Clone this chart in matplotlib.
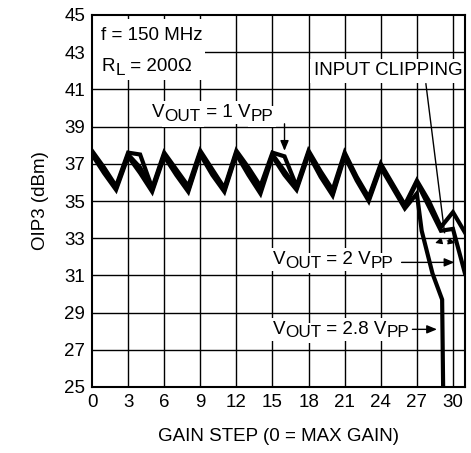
import numpy as np
import matplotlib
matplotlib.use("Agg")
import matplotlib.pyplot as plt
from matplotlib.patches import Rectangle

plt.rcParams['font.family'] = ['Liberation Sans', 'DejaVu Sans']

# gain steps 0..31
steps = np.arange(0, 32)
oip3_1v = [37.7, 36.8, 35.8, 37.6, 37.5, 35.7, 37.6, 36.7, 35.8, 37.7, 36.7, 35.7,
           37.7, 36.8, 35.8, 37.6, 37.4, 35.8, 37.7, 36.6, 35.6, 37.6, 36.3, 35.2,
           37.0, 35.9, 34.8, 36.1, 35.0, 33.6, 34.4, 33.3]
oip3_2v = [37.6, 36.6, 35.7, 37.5, 36.8, 35.6, 37.5, 36.5, 35.6, 37.6, 36.6, 35.6,
           37.6, 36.6, 35.6, 37.5, 36.6, 35.7, 37.6, 36.5, 35.4, 37.5, 36.2, 35.1,
           36.9, 35.8, 34.7, 36.0, 34.7, 33.4, 33.5, 31.1]
# 2.8 Vpp drops out below 25 dBm just past step 29
steps_28 = [0, 1, 2, 3, 4, 5, 6, 7, 8, 9, 10, 11, 12, 13, 14, 15, 16, 17, 18, 19,
            20, 21, 22, 23, 24, 25, 26, 27, 27.4, 28.3, 29.1, 29.2]
oip3_28v = [37.5, 36.5, 35.6, 37.4, 36.5, 35.5, 37.4, 36.4, 35.5, 37.5, 36.4, 35.5,
            37.5, 36.4, 35.4, 37.4, 36.4, 35.6, 37.5, 36.3, 35.3, 37.4, 36.1, 35.0,
            36.8, 35.7, 34.6, 35.4, 33.4, 31.1, 29.7, 24.0]

xticks = list(range(0, 31, 3))
yticks = list(range(25, 46, 2))

fs = 13.5
fs_sub = 12.3

fig = plt.figure(figsize=(4.71, 4.53), dpi=100)
ax = fig.add_axes([92/471, 1-387/453, 373/471, 372/453])


def sub_label(x, y, parts, drop=2.0):
    # text with near full-size subscripts; first pass paints the white
    # background, second pass the black glyphs on top
    for color, bbox, z in [('white', dict(fc='white', ec='none', pad=2), 4),
                           ('black', None, 5)]:
        first = prev = None
        for s, sub in parts:
            kw = dict(fontsize=fs_sub if sub else fs, color=color, bbox=bbox,
                      zorder=z, va='bottom', ha='left', annotation_clip=False)
            if first is None:
                t = ax.annotate(s, (x, y), xycoords='data', **kw)
                first = t
            else:
                t = ax.annotate(s, (1, 0), xycoords=(prev, first),
                                xytext=(0, -drop if sub else 0),
                                textcoords='offset points', **kw)
            prev = t


for x in xticks[1:]:
    ax.axvline(x, color='black', lw=1.0, zorder=1)
for y in yticks[1:-1]:
    ax.axhline(y, color='black', lw=1.0, zorder=1)

lw = 3.0
ax.plot(steps, oip3_1v, color='black', lw=lw, zorder=3, solid_joinstyle='miter')
ax.plot(steps, oip3_2v, color='black', lw=lw, zorder=3, solid_joinstyle='miter')
ax.plot(steps_28, oip3_28v, color='black', lw=lw, zorder=3, solid_joinstyle='miter')

ax.set_xlim(0, 31)
ax.set_ylim(25, 45)
ax.set_xticks(xticks)
ax.set_yticks(yticks)
ax.tick_params(length=0, labelsize=fs, pad=5)
for s in ax.spines.values():
    s.set_linewidth(1.5)
    s.set_zorder(6)
ax.set_xlabel('GAIN STEP (0 = MAX GAIN)', fontsize=fs, labelpad=12)
ax.set_ylabel('OIP3 (dBm)', fontsize=fs, labelpad=11)

# conditions block in the top-left corner
ax.add_patch(Rectangle((0.1, 41.5), 9.3, 3.3, fc='white', ec='none', zorder=2))
sub_label(0.75, 43.45, [('f = 150 MHz', False)])
sub_label(0.8, 41.78, [('R', False), ('L', True), (' = 200Ω', False)])

ax.text(24.6, 42.0, 'INPUT CLIPPING', fontsize=fs, va='center', ha='center',
        bbox=dict(facecolor='white', edgecolor='none', pad=2.5), zorder=4)
ax.plot([27.75, 29.3], [41.3, 33.3], color='black', lw=1.0, zorder=5)
ax.annotate('', xy=(28.3, 32.7), xytext=(29.3, 32.9),
            arrowprops=dict(arrowstyle='-|>,head_length=0.4,head_width=0.2', color='black', lw=0.8), zorder=5)
ax.annotate('', xy=(30.4, 32.7), xytext=(29.3, 32.9),
            arrowprops=dict(arrowstyle='-|>,head_length=0.4,head_width=0.2', color='black', lw=0.8), zorder=5)

sub_label(5.0, 39.3, [('V', False), ('OUT', True), (' = 1 V', False), ('PP', True)])
ax.annotate('', xy=(16.0, 37.55), xytext=(16.0, 39.3),
            arrowprops=dict(arrowstyle='-|>,head_length=0.6,head_width=0.25', color='black', lw=1.0), zorder=5)

sub_label(15.0, 31.4, [('V', False), ('OUT', True), (' = 2 V', False), ('PP', True)])
ax.annotate('', xy=(30.35, 31.7), xytext=(25.5, 31.7),
            arrowprops=dict(arrowstyle='-|>,head_length=0.6,head_width=0.25', color='black', lw=1.0), zorder=5)

sub_label(15.0, 27.65, [('V', False), ('OUT', True), (' = 2.8 V', False), ('PP', True)])
ax.annotate('', xy=(28.9, 28.1), xytext=(26.4, 28.1),
            arrowprops=dict(arrowstyle='-|>,head_length=0.6,head_width=0.25', color='black', lw=1.0), zorder=5)

fig.savefig('out.png', dpi=100)
